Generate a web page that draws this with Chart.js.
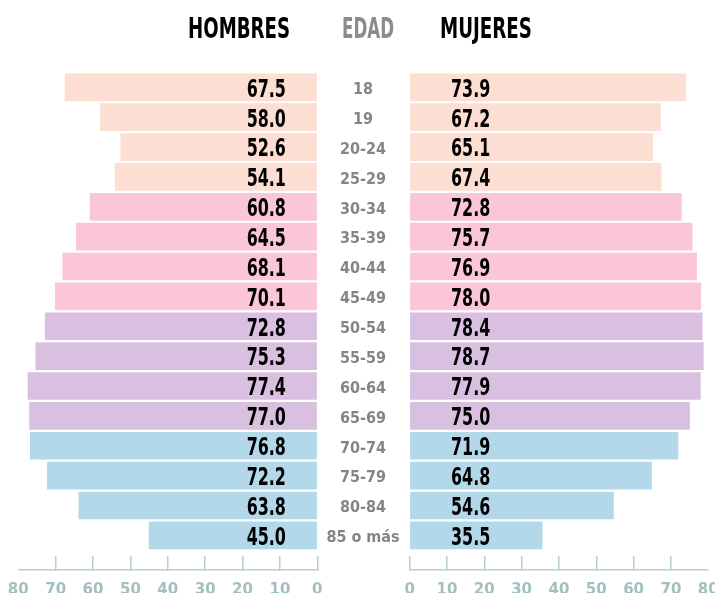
<!DOCTYPE html>
<html><head><meta charset="utf-8">
<script src="https://cdn.jsdelivr.net/npm/chart.js@4.4.1/dist/chart.umd.min.js"></script>
<style>
html,body{margin:0;padding:0;background:#fff;overflow:hidden;width:715px;height:593px}
#wrap{position:relative;width:715px;height:593px;overflow:hidden}
#cl{position:absolute;left:0;top:0}
#cr{position:absolute;left:400px;top:0}
</style></head><body>
<div id="wrap"><canvas id="cl" width="400" height="624"></canvas><canvas id="cr" width="325" height="624"></canvas></div>
<script>
const ageGroups = ['18','19','20-24','25-29','30-34','35-39','40-44','45-49','50-54','55-59','60-64','65-69','70-74','75-79','80-84','85 o más'];
const hombres = [67.5,58.0,52.6,54.1,60.8,64.5,68.1,70.1,72.8,75.3,77.4,77.0,76.8,72.2,63.8,45.0];
const mujeres = [73.9,67.2,65.1,67.4,72.8,75.7,76.9,78.0,78.4,78.7,77.9,75.0,71.9,64.8,54.6,35.5];
const xTicks = [0,10,20,30,40,50,60,70,80];
const headers = ['HOMBRES','EDAD','MUJERES'];

const PEACH='#FDDED3', PINK='#FBC6D8', LAV='#D9C0E1', BLUE='#B3D8E9';
const rowColors = [PEACH,PEACH,PEACH,PEACH,PINK,PINK,PINK,PINK,LAV,LAV,LAV,LAV,BLUE,BLUE,BLUE,BLUE];
const AXIS='#B7CFD0', TICKTXT='#A3C0C1';
const NARROW = '"Liberation Sans Narrow","DejaVu Sans Condensed","Arial Narrow",sans-serif';

function fitText(ctx, text, cx, by, font, color, w){
  ctx.save();
  ctx.font = font; ctx.fillStyle = color; ctx.textAlign='center'; ctx.textBaseline='alphabetic';
  const m = ctx.measureText(text).width;
  const s = w ? w/m : 1;
  ctx.translate(cx, by); ctx.scale(s,1); ctx.fillText(text,0,0);
  ctx.restore();
}

function makeChart(id, values, side){
  const left = side==='left';
  const pts = values.map((v,i)=>({x:v, y:i}));
  const labelPlugin = {
    id:'labels'+side,
    afterDatasetsDraw(chart){
      const ctx = chart.ctx;
      const xs = chart.scales.x;
      const x0 = xs.getPixelForValue(0);
      const meta = chart.getDatasetMeta(0);
      meta.data.forEach((bar,i)=>{
        const cx = left ? x0 - 51 : x0 + 61;
        fitText(ctx, values[i].toFixed(1), cx, bar.y + 9.3, 'bold 24px '+NARROW, '#000', 39.3);
        if(left){
          fitText(ctx, ageGroups[i], 363, bar.y + 6.8, 'bold 16px '+NARROW, '#858585', 0);
        }
      });
      if(left){
        fitText(ctx, headers[0], 239, 38, 'bold 29px '+NARROW, '#000', 102);
        fitText(ctx, headers[1], 368, 38, 'bold 29px '+NARROW, '#8C8C8C', 52);
      } else {
        fitText(ctx, headers[2], 86, 38, 'bold 29px '+NARROW, '#000', 92);
      }
    }
  };
  return new Chart(document.getElementById(id), {
    type:'bar',
    data:{ datasets:[{ data: pts, backgroundColor: rowColors, borderWidth:0, barThickness:27 }] },
    options:{
      indexAxis:'y',
      responsive:false, maintainAspectRatio:false, animation:false,
      layout:{ padding: left ? {top:72.4, left:18.3, right:82.7, bottom:0.6} : {top:72.4, left:9.5, right:16.8, bottom:0.6} },
      plugins:{ legend:{display:false}, tooltip:{enabled:false} },
      scales:{
        y:{ type:'linear', display:false, offset:false, min:-0.5, max:16.16, reverse:true },
        x:{
          type:'linear', min:0, max:80, reverse:left, offset:false,
          afterBuildTicks: s => { s.ticks = xTicks.map(v=>({value:v})); },
          border:{ display:true, color:AXIS, width:1.5 },
          grid:{ drawOnChartArea:false, drawTicks:true, tickLength:-14, lineWidth:1.5,
                 color: c => (c.tick && c.tick.value===80) ? 'rgba(0,0,0,0)' : AXIS },
          ticks:{ color:TICKTXT, padding:4.45, maxRotation:0, autoSkip:false,
                  font:{ family:'"DejaVu Sans",sans-serif', weight:'bold', size:15, lineHeight:3.9 } }
        }
      }
    },
    plugins:[labelPlugin]
  });
}
makeChart('cl', hombres, 'left');
makeChart('cr', mujeres, 'right');
</script>
</body></html>
